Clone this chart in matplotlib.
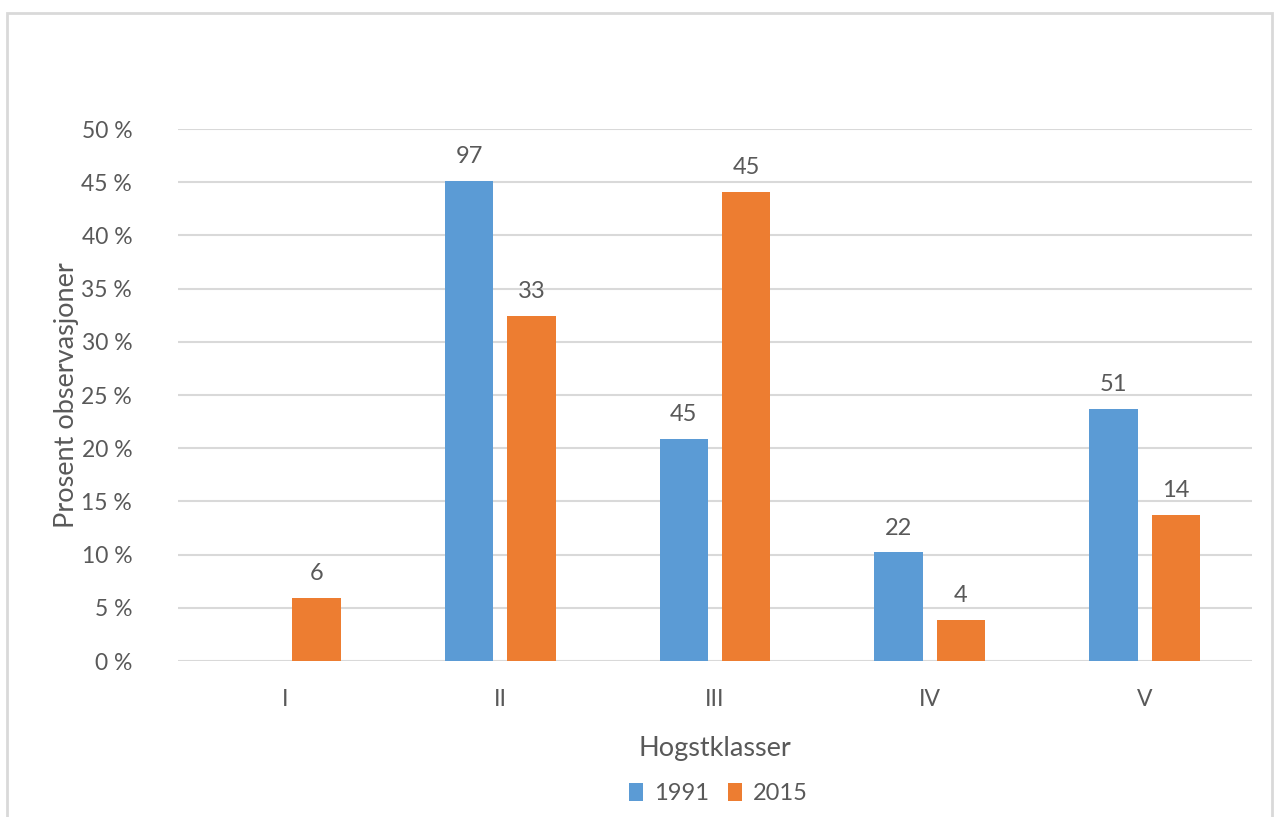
import matplotlib

matplotlib.use("Agg")
import matplotlib.pyplot as plt
import numpy as np
from matplotlib.patches import Rectangle

# ── Data ─────────────────────────────────────────────────────────────────────
categories = ["I", "II", "III", "IV", "V"]
pct_1991 = [0.0, 45.1, 20.9, 10.2, 23.7]
pct_2015 = [5.9, 32.4, 44.1, 3.9, 13.7]
n_1991 = [None, 97, 45, 22, 51]
n_2015 = [6, 33, 45, 4, 14]
yticks = [0, 5, 10, 15, 20, 25, 30, 35, 40, 45, 50]

BLUE = "#5B9BD5"
ORANGE = "#ED7D31"
GRID = "#D9D9D9"
TEXT = "#595959"

plt.rcParams.update({"font.family": ["Lato", "DejaVu Sans"]})

fig = plt.figure(figsize=(12.74, 8.17), dpi=100)
fig.patch.set_facecolor("white")
ax = fig.add_axes([178 / 1274, 1 - 661 / 817, (1252 - 178) / 1274, (661 - 129) / 817])

x = np.arange(len(categories))
w = 0.225
off = 0.145
b1 = ax.bar(x - off, pct_1991, width=w, color=BLUE, zorder=3, label="1991")
b2 = ax.bar(x + off, pct_2015, width=w, color=ORANGE, zorder=3, label="2015")

for bars, counts in ((b1, n_1991), (b2, n_2015)):
    for rect, n in zip(bars, counts):
        if n is None:
            continue
        ax.annotate(str(n), (rect.get_x() + rect.get_width() / 2, rect.get_height()),
                    xytext=(0, 10), textcoords="offset points",
                    ha="center", va="bottom", fontsize=17, color=TEXT)

ax.set_xlim(-0.5, len(categories) - 0.5)
ax.set_ylim(0, 50)
ax.set_yticks(yticks)
ax.set_yticklabels([f"{t} %" for t in yticks])
ax.set_xticks(x)
ax.set_xticklabels(categories)
ax.yaxis.grid(True, color=GRID, linewidth=1.5, zorder=0)
ax.set_axisbelow(True)
for s in ax.spines.values():
    s.set_visible(False)
ax.tick_params(axis="both", length=0, labelsize=16.5, colors=TEXT)
ax.tick_params(axis="y", pad=33)
ax.tick_params(axis="x", pad=20)

ax.set_ylabel("Prosent observasjoner", fontsize=19.5, color=TEXT, labelpad=2)
ax.set_xlabel("Hogstklasser", fontsize=19.5, color=TEXT, labelpad=19)

ax.legend(loc="upper center", bbox_to_anchor=(0.503, -0.19), ncol=2, frameon=False,
          fontsize=17, labelcolor=TEXT, handlelength=0.6, handleheight=0.75,
          handletextpad=0.45, columnspacing=0.8)

# outer chart frame
fig.patches.append(Rectangle((7 / 1274, -0.05), 1265 / 1274, 1.05 - 13 / 817,
                             transform=fig.transFigure, fill=False,
                             edgecolor=GRID, linewidth=2))

fig.savefig("out.png", dpi=100, facecolor="white")
